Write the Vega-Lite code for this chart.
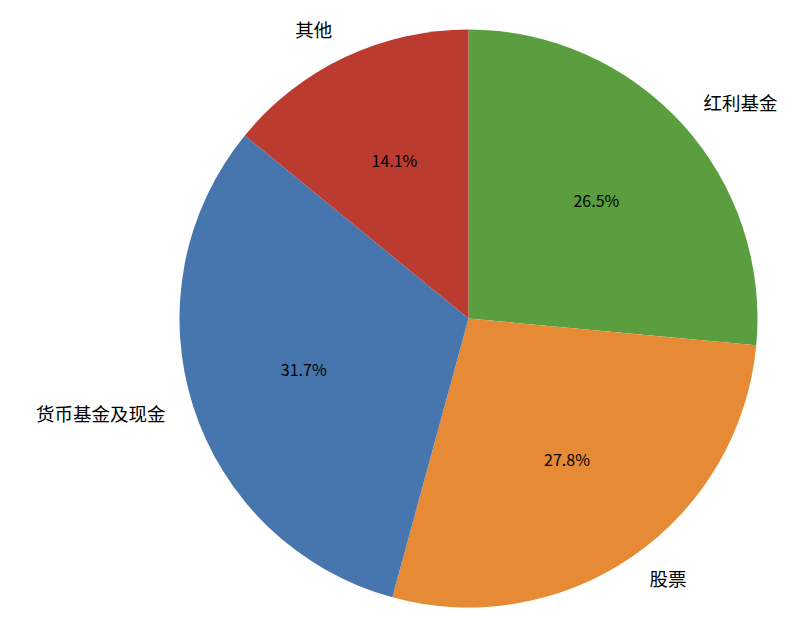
{
  "$schema": "https://vega.github.io/schema/vega-lite/v6.json",
  "autosize": {"type": "none"},
  "width": 663,
  "height": 601,
  "padding": {"left": 137, "right": 0, "top": 18, "bottom": 0},
  "background": "white",
  "view": {"stroke": null},
  "data": {
    "values": [
      {"category": "红利基金", "value": 26.5, "label": "26.5%", "side": "right", "order": 1},
      {"category": "股票", "value": 27.8, "label": "27.8%", "side": "right", "order": 2},
      {"category": "货币基金及现金", "value": 31.7, "label": "31.7%", "side": "left", "order": 3},
      {"category": "其他", "value": 14.1, "label": "14.1%", "side": "left", "order": 4}
    ]
  },
  "encoding": {
    "theta": {"field": "value", "type": "quantitative", "stack": true},
    "order": {"field": "order", "type": "quantitative"}
  },
  "layer": [
    {
      "mark": {"type": "arc", "outerRadius": 289},
      "encoding": {
        "color": {
          "field": "category",
          "type": "nominal",
          "sort": ["红利基金", "股票", "货币基金及现金", "其他"],
          "scale": {
            "domain": ["红利基金", "股票", "货币基金及现金", "其他"],
            "range": ["#5a9e3f", "#e68a35", "#4776ae", "#bc3b31"]
          },
          "legend": null
        }
      }
    },
    {
      "mark": {"type": "text", "radius": 173, "font": "Noto Sans CJK SC", "fontSize": 16, "color": "black", "baseline": "middle", "align": "center"},
      "encoding": {"text": {"field": "label"}}
    },
    {
      "mark": {"type": "text", "radius": 318, "font": "Noto Sans CJK SC", "fontSize": 18.5, "color": "black", "baseline": "middle", "align": "left"},
      "encoding": {"text": {"condition": {"test": "datum.side == 'right'", "field": "category"}, "value": ""}}
    },
    {
      "mark": {"type": "text", "radius": 318, "font": "Noto Sans CJK SC", "fontSize": 18.5, "color": "black", "baseline": "middle", "align": "right"},
      "encoding": {"text": {"condition": {"test": "datum.side == 'left'", "field": "category"}, "value": ""}}
    }
  ]
}
